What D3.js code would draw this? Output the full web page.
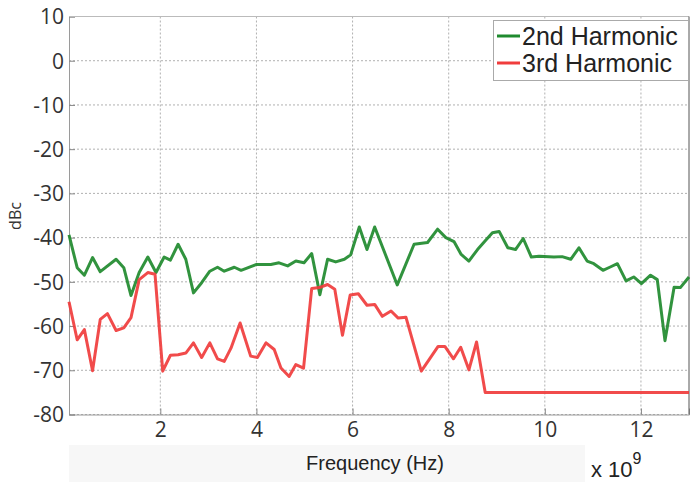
<!DOCTYPE html>
<html>
<head>
<meta charset="utf-8">
<script src="https://cdn.jsdelivr.net/npm/d3@7"></script>
<style>
  body { margin: 0; background: #fff; }
  svg { display: block; }
</style>
</head>
<body>
<div id="chart"></div>
<script>
// 2nd harmonic (GHz, dBc)
var freq2 = [0.1, 0.27, 0.42, 0.59, 0.75, 1.08, 1.24, 1.39, 1.56, 1.74, 1.91, 2.08, 2.21, 2.37, 2.53, 2.69, 2.86, 3.03, 3.19, 3.33,
  3.54, 3.68, 3.99, 4.30, 4.47, 4.65, 4.82, 4.99, 5.15, 5.32, 5.48, 5.65, 5.83, 5.96, 6.14, 6.30, 6.46, 6.93, 7.28, 7.56,
  7.77, 7.94, 8.11, 8.26, 8.42, 8.60, 8.77, 8.91, 9.05, 9.23, 9.39, 9.55, 9.72, 9.88, 10.19, 10.36, 10.54, 10.71, 10.88, 11.02,
  11.21, 11.35, 11.51, 11.69, 11.85, 12.01, 12.20, 12.34, 12.50, 12.69, 12.82, 13.0];
var harm2 = [-39.4, -46.8, -48.5, -44.5, -47.7, -44.9, -46.8, -53.1, -47.9, -44.4, -47.9, -44.4, -45.1, -41.5, -44.9, -52.5, -50.2, -47.6, -46.7, -47.6,
  -46.7, -47.4, -46.1, -46.1, -45.7, -46.4, -45.3, -45.7, -43.6, -52.9, -44.9, -45.5, -44.9, -43.9, -37.6, -42.7, -37.6, -50.7, -41.5, -41.1,
  -38.1, -40.0, -40.9, -43.8, -45.3, -42.7, -40.6, -38.9, -38.6, -42.3, -42.7, -40.2, -44.4, -44.2, -44.4, -44.3, -44.9, -42.3, -45.3, -45.9,
  -47.4, -46.7, -45.9, -49.8, -48.9, -50.4, -48.5, -49.5, -63.3, -51.2, -51.3, -48.9];

// 3rd harmonic (GHz, dBc)
var freq3 = [0.1, 0.27, 0.42, 0.59, 0.75, 0.90, 1.08, 1.24, 1.39, 1.56, 1.74, 1.89, 2.05, 2.21, 2.37, 2.53, 2.69, 2.86, 3.03, 3.19,
  3.33, 3.47, 3.66, 3.88, 4.02, 4.20, 4.37, 4.51, 4.68, 4.82, 4.98, 5.15, 5.31, 5.48, 5.63, 5.79, 5.95, 6.12, 6.30, 6.46,
  6.62, 6.80, 6.95, 7.11, 7.43, 7.78, 7.92, 8.10, 8.25, 8.42, 8.58, 8.76, 13.0];
var harm3 = [-54.5, -63.1, -60.8, -70.1, -58.5, -57.2, -61.0, -60.4, -58.1, -49.5, -47.9, -48.3, -70.2, -66.6, -66.5, -66.1, -63.8, -67.1, -63.8, -67.4,
  -68.0, -65.0, -59.3, -66.8, -67.1, -63.8, -65.3, -69.5, -71.4, -68.7, -69.5, -51.5, -51.3, -50.6, -51.7, -62.1, -53.0, -52.7, -55.3, -55.1,
  -57.8, -56.6, -58.2, -58.0, -70.2, -64.6, -64.6, -67.4, -64.8, -69.9, -63.6, -75.0, -75.0];

var seriesNames = ["2nd Harmonic", "3rd Harmonic"];
var seriesColors = ["#1f8a2e", "#f03c3c"];
var xTicks = [2, 4, 6, 8, 10, 12];
var yTicks = [10, 0, -10, -20, -30, -40, -50, -60, -70, -80];

var W = 692, H = 482;
// plot box (named so they don't clash with window.top)
var pLeft = 69, pRight = 689, pTop = 16.5, pBottom = 414.5;

var svg = d3.select("#chart").append("svg")
  .attr("width", W).attr("height", H);

// faint band behind the x label, like the source screenshot
svg.append("rect").attr("x", 69).attr("y", 445).attr("width", 516).attr("height", 37)
  .attr("fill", "#f7f7f7");

var x = d3.scaleLinear().domain([0.1, 13]).range([pLeft, pRight]);
var y = d3.scaleLinear().domain([-80, 10]).range([pBottom, pTop]);

// gridlines
var grid = svg.append("g");
grid.selectAll("line.gy").data(yTicks).enter().append("line")
  .attr("x1", pLeft).attr("x2", pRight)
  .attr("y1", function (d) { return y(d); }).attr("y2", function (d) { return y(d); })
  .attr("stroke", "#b0b0b0").attr("stroke-width", 1).attr("stroke-dasharray", "2,2");
grid.selectAll("line.gx").data(xTicks).enter().append("line")
  .attr("y1", pTop).attr("y2", pBottom)
  .attr("x1", function (d) { return x(d); }).attr("x2", function (d) { return x(d); })
  .attr("stroke", "#b0b0b0").attr("stroke-width", 1).attr("stroke-dasharray", "2,2");

// axes - plain hyphen for negatives, like the original
var fmt = function (d) { return String(d); };
var xAxis = svg.append("g").attr("transform", "translate(0," + pBottom + ")")
  .call(d3.axisBottom(x).tickValues(xTicks).tickFormat(fmt).tickSize(-6).tickPadding(4));
var yAxis = svg.append("g").attr("transform", "translate(" + pLeft + ",0)")
  .call(d3.axisLeft(y).tickValues(yTicks).tickFormat(fmt).tickSize(-6).tickPadding(5));
[xAxis, yAxis].forEach(function (a) {
  a.select(".domain").attr("stroke", "#9a9a9a");
  a.selectAll(".tick line").attr("stroke", "#888");
  a.selectAll("text")
    .style("font-family", "'Open Sans', sans-serif")
    .style("font-size", "21px")
    .attr("fill", "#333");
});
xAxis.selectAll("text").attr("dy", "0.9em");
yAxis.selectAll("text").attr("dy", "0.35em");

// top and right border
svg.append("line").attr("x1", pLeft).attr("x2", pRight).attr("y1", pTop).attr("y2", pTop)
  .attr("stroke", "#bbb");
svg.append("line").attr("x1", pRight).attr("x2", pRight).attr("y1", pTop).attr("y2", pBottom)
  .attr("stroke", "#555");

// lines
var line = d3.line().x(function (d) { return x(d[0]); }).y(function (d) { return y(d[1]); });
var series = [d3.zip(freq2, harm2), d3.zip(freq3, harm3)];
svg.append("g").selectAll("path").data(series).enter().append("path")
  .attr("d", line)
  .attr("fill", "none")
  .attr("stroke", function (d, i) { return seriesColors[i]; })
  .attr("stroke-width", 3)
  .attr("stroke-linejoin", "round")
  .attr("stroke-opacity", 0.92);

// axis labels
svg.append("text").attr("x", 375).attr("y", 470)
  .attr("text-anchor", "middle")
  .style("font-family", "'Liberation Sans', Arial, sans-serif")
  .style("font-size", "20px").attr("fill", "#222")
  .text("Frequency (Hz)");
var mult = svg.append("text").attr("x", 591).attr("y", 477)
  .style("font-family", "'Liberation Sans', Arial, sans-serif")
  .style("font-size", "22px").attr("fill", "#222");
mult.append("tspan").text("x 10");
mult.append("tspan").attr("dy", -13).style("font-size", "16px").text("9");

svg.append("text")
  .attr("transform", "translate(21,216) rotate(-90)")
  .attr("text-anchor", "middle")
  .style("font-family", "'Open Sans', sans-serif")
  .style("font-size", "16px").attr("fill", "#333")
  .text("dBc");

// legend
var lg = svg.append("g");
lg.append("rect").attr("x", 493.5).attr("y", 20.5).attr("width", 195).attr("height", 60)
  .attr("fill", "#fff").attr("stroke", "#aaa");
var items = lg.selectAll("g.item").data(seriesNames).enter().append("g")
  .attr("transform", function (d, i) { return "translate(0," + (36 + i * 27) + ")"; });
items.append("line").attr("x1", 497).attr("x2", 520).attr("y1", 0).attr("y2", 0)
  .attr("stroke", function (d, i) { return seriesColors[i]; }).attr("stroke-width", 3);
items.append("text").attr("x", 522).attr("y", 0).attr("dy", "0.36em")
  .style("font-family", "'Liberation Sans', Arial, sans-serif")
  .style("font-size", "25px").attr("fill", "#222")
  .text(function (d) { return d; });
</script>
</body>
</html>
